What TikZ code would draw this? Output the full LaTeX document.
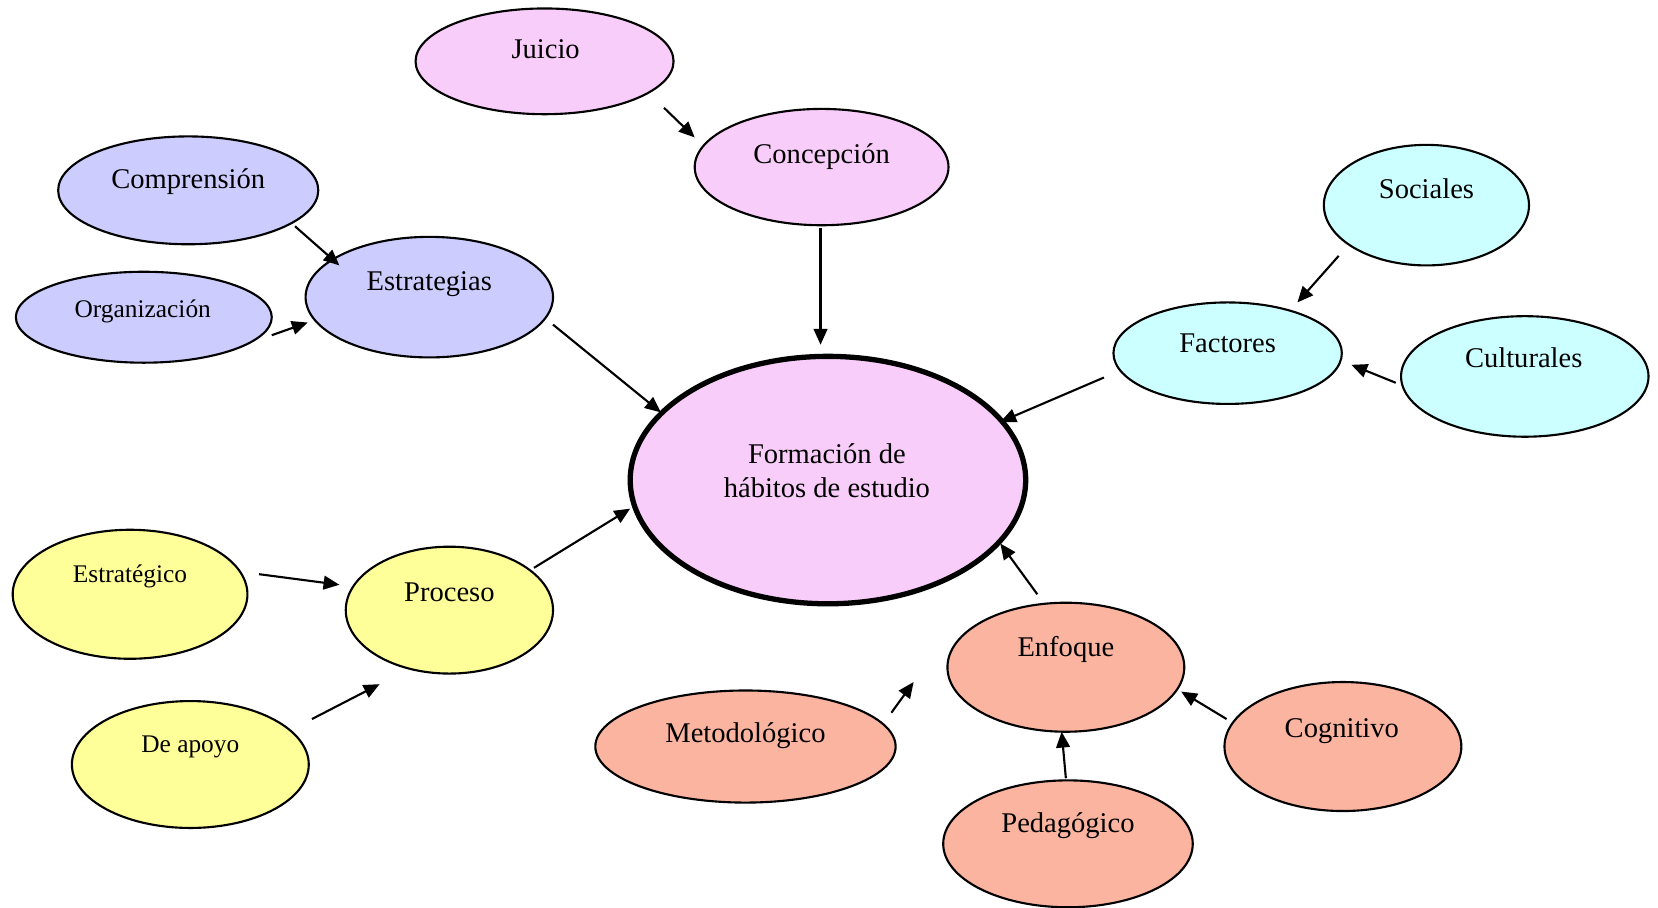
\documentclass[tikz,border=0pt]{standalone}
\usepackage{fontspec}
\setmainfont{Liberation Serif}
\usetikzlibrary{shapes.geometric,arrows.meta,calc}
\definecolor{cpink}{HTML}{F9CDF9}
\definecolor{clav}{HTML}{CCCCFF}
\definecolor{ccyan}{HTML}{CCFFFF}
\definecolor{cyell}{HTML}{FFFF99}
\definecolor{csalm}{HTML}{FBB4A0}
\newcommand\bubble[7]{%
  \node[bub,fill=#6,minimum width=#4pt,minimum height=#5pt] (#1) at (#2,#3) {};}
\begin{document}
\begin{tikzpicture}[x=0.5pt,y=-0.5pt,
  bub/.style={ellipse,draw=black,line width=1pt,inner sep=0pt,outer sep=0pt},
  txt/.style={anchor=base,inner sep=0pt,font=\fontsize{13.5}{16}\selectfont},
  smalltxt/.style={anchor=base,inner sep=0pt,font=\fontsize{12}{14}\selectfont},
  arr/.style={-{Triangle[length=7.5pt,width=6.5pt]},line width=1pt}]
\useasboundingbox (0,0) rectangle (1568,858);
% ellipses
\bubble{juicio}{515}{58}{122}{50}{cpink}{}
\bubble{concep}{777}{158}{120}{55}{cpink}{}
\bubble{compr}{178}{180}{123}{51}{clav}{}
\bubble{estr}{406}{281}{117}{57}{clav}{}
\bubble{organ}{136}{300}{121}{43}{clav}{}
\node[bub,fill=cpink,line width=2.5pt,minimum width=187pt,minimum height=117pt] (form) at (783,454) {};
\bubble{soc}{1349}{194}{97}{57}{ccyan}{}
\bubble{fact}{1161}{334}{108}{48}{ccyan}{}
\bubble{cult}{1442}{356}{117}{57}{ccyan}{}
\bubble{estg}{123}{562}{111}{61}{cyell}{}
\bubble{proc}{425}{577}{98}{60}{cyell}{}
\bubble{apoyo}{180}{723}{112}{60}{cyell}{}
\bubble{enf}{1008}{631}{112}{61}{csalm}{}
\bubble{metod}{705}{706}{142}{53}{csalm}{}
\bubble{cogn}{1270}{706}{112}{61}{csalm}{}
\bubble{pedag}{1010}{798}{118}{60}{csalm}{}
% texts
\node[txt] (juicio-t) at (516,55) {Juicio};
\node[txt] (concep-t) at (777,155) {Concepción};
\node[txt] (compr-t) at (178,178) {Comprensión};
\node[txt] (estr-t) at (406,275) {Estrategias};
\node[smalltxt] (organ-t) at (135,300) {Organización};
\node[anchor=center,inner sep=0pt,align=center,font=\fontsize{13.5}{16}\selectfont] (form-t) at (782,445) {Formación de\\hábitos de estudio};
\node[txt] (soc-t) at (1349,188) {Sociales};
\node[txt] (fact-t) at (1161,333) {Factores};
\node[txt] (cult-t) at (1441,348) {Culturales};
\node[smalltxt] (estg-t) at (123,551) {Estratégico};
\node[txt] (proc-t) at (425,569) {Proceso};
\node[smalltxt] (apoyo-t) at (180,712) {De apoyo};
\node[txt] (enf-t) at (1008,621) {Enfoque};
\node[txt] (metod-t) at (705,702) {Metodológico};
\node[txt] (cogn-t) at (1269,697) {Cognitivo};
\node[txt] (pedag-t) at (1010,787) {Pedagógico};
% arrows
\draw[arr] ($(juicio)+(113,44)$) -- ($(concep)+(-120,-28)$);
\draw[arr] ($(concep)+(-1,58)$) -- ($(form)+(-7,-128)$);
\draw[arr] ($(compr)+(101,34)$) -- ($(estr)+(-85,-30)$);
\draw[arr] ($(organ)+(121,17)$) -- ($(estr)+(-115,24)$);
\draw[arr] ($(estr)+(117,26)$) -- ($(form)+(-158,-64)$);
\draw[arr] ($(fact)+(-117,23)$) -- ($(form)+(163,-55)$);
\draw[arr] ($(soc)+(-83,48)$) -- ($(fact)+(66,-48)$);
\draw[arr] ($(cult)+(-122,6)$) -- ($(fact)+(117,11)$);
\draw[arr] ($(estg)+(122,-19)$) -- ($(proc)+(-104,-24)$);
\draw[arr] ($(apoyo)+(115,-43)$) -- ($(proc)+(-66,70)$);
\draw[arr] ($(proc)+(80,-40)$) -- ($(form)+(-187,27)$);
\draw[arr] ($(enf)+(-27,-69)$) -- ($(form)+(163,60)$);
\draw[arr] ($(metod)+(138,-32)$) -- ($(enf)+(-144,14)$);
\draw[arr] ($(pedag)+(-2,-62)$) -- ($(enf)+(-4,61)$);
\draw[arr] ($(cogn)+(-110,-26)$) -- ($(enf)+(109,23)$);
\end{tikzpicture}
\end{document}
